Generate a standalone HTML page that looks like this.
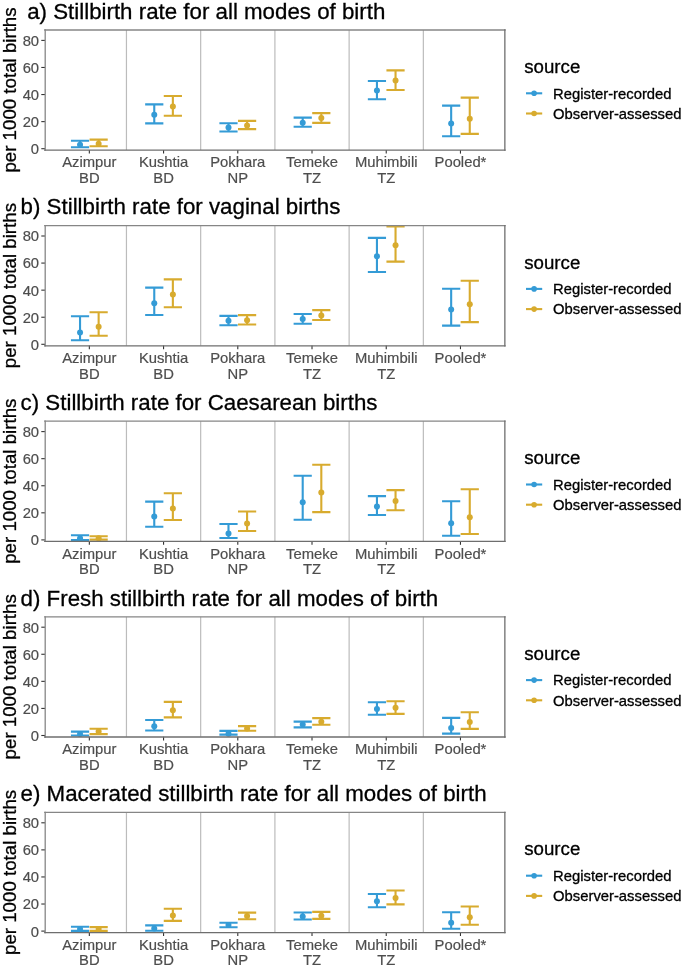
<!DOCTYPE html>
<html><head><meta charset="utf-8"><style>
html,body{margin:0;padding:0;background:#fff;}
body{width:685px;height:970px;overflow:hidden;}
svg{display:block;will-change:transform;}
text{font-family:"Liberation Sans",sans-serif;}
.ttl{font-size:22.3px;fill:#000;stroke:#000;stroke-width:0.3px;}
.ylab{font-size:18.7px;fill:#000;stroke:#000;stroke-width:0.3px;}
.axt{font-size:14.8px;fill:#4d4d4d;stroke:#4d4d4d;stroke-width:0.18px;}
.lgt{font-size:18.7px;fill:#000;stroke:#000;stroke-width:0.3px;}
.lg{font-size:14.8px;fill:#000;stroke:#000;stroke-width:0.3px;}
.sep{stroke:#bcbcbc;stroke-width:1.2;}
.tick{stroke:#333;stroke-width:1.1;}
.bl{fill:none;stroke:#868686;stroke-width:1.3;stroke-linecap:square;}
.bd{fill:none;stroke:#6e6e6e;stroke-width:1.3;stroke-linecap:square;}
.eb{fill:none;stroke-width:2.1;}
</style></head><body>
<svg width="685" height="970" viewBox="0 0 685 970">
<rect width="685" height="970" fill="#fff"/>
<text x="27.2" y="18.8" class="ttl">a) Stillbirth rate for all modes of birth</text>
<text transform="translate(15.9,90) rotate(-90)" text-anchor="middle" class="ylab">per 1000 total births</text>
<line x1="126.45" y1="30" x2="126.45" y2="150" class="sep"/>
<line x1="200.67" y1="30" x2="200.67" y2="150" class="sep"/>
<line x1="274.9" y1="30" x2="274.9" y2="150" class="sep"/>
<line x1="349.13" y1="30" x2="349.13" y2="150" class="sep"/>
<line x1="423.35" y1="30" x2="423.35" y2="150" class="sep"/>
<line x1="41.3" y1="148.7" x2="45" y2="148.7" class="tick"/>
<text x="39.1" y="154.1" text-anchor="end" class="axt">0</text>
<line x1="41.3" y1="121.62" x2="45" y2="121.62" class="tick"/>
<text x="39.1" y="127.02" text-anchor="end" class="axt">20</text>
<line x1="41.3" y1="94.55" x2="45" y2="94.55" class="tick"/>
<text x="39.1" y="99.95" text-anchor="end" class="axt">40</text>
<line x1="41.3" y1="67.47" x2="45" y2="67.47" class="tick"/>
<text x="39.1" y="72.88" text-anchor="end" class="axt">60</text>
<line x1="41.3" y1="40.4" x2="45" y2="40.4" class="tick"/>
<text x="39.1" y="45.8" text-anchor="end" class="axt">80</text>
<line x1="89.34" y1="150" x2="89.34" y2="153.6" class="tick"/>
<text x="89.34" y="167.4" text-anchor="middle" class="axt">Azimpur</text>
<text x="89.34" y="183" text-anchor="middle" class="axt">BD</text>
<line x1="163.56" y1="150" x2="163.56" y2="153.6" class="tick"/>
<text x="163.56" y="167.4" text-anchor="middle" class="axt">Kushtia</text>
<text x="163.56" y="183" text-anchor="middle" class="axt">BD</text>
<line x1="237.79" y1="150" x2="237.79" y2="153.6" class="tick"/>
<text x="237.79" y="167.4" text-anchor="middle" class="axt">Pokhara</text>
<text x="237.79" y="183" text-anchor="middle" class="axt">NP</text>
<line x1="312.01" y1="150" x2="312.01" y2="153.6" class="tick"/>
<text x="312.01" y="167.4" text-anchor="middle" class="axt">Temeke</text>
<text x="312.01" y="183" text-anchor="middle" class="axt">TZ</text>
<line x1="386.24" y1="150" x2="386.24" y2="153.6" class="tick"/>
<text x="386.24" y="167.4" text-anchor="middle" class="axt">Muhimbili</text>
<text x="386.24" y="183" text-anchor="middle" class="axt">TZ</text>
<line x1="460.46" y1="150" x2="460.46" y2="153.6" class="tick"/>
<text x="460.46" y="167.4" text-anchor="middle" class="axt">Pooled*</text>
<path d="M70.94 140.7H89.14M80.04 140.7V147.2M70.94 147.2H89.14" stroke="#349bd6" class="eb"/>
<circle cx="80.04" cy="144.7" r="3.0" fill="#349bd6"/>
<path d="M89.54 139.6H107.74M98.64 139.6V146.2M89.54 146.2H107.74" stroke="#d8ab2e" class="eb"/>
<circle cx="98.64" cy="143.8" r="3.0" fill="#d8ab2e"/>
<path d="M145.16 104.4H163.36M154.26 104.4V123.4M145.16 123.4H163.36" stroke="#349bd6" class="eb"/>
<circle cx="154.26" cy="114.8" r="3.0" fill="#349bd6"/>
<path d="M163.76 96H181.96M172.86 96V115.7M163.76 115.7H181.96" stroke="#d8ab2e" class="eb"/>
<circle cx="172.86" cy="106.6" r="3.0" fill="#d8ab2e"/>
<path d="M219.39 123.2H237.59M228.49 123.2V131.5M219.39 131.5H237.59" stroke="#349bd6" class="eb"/>
<circle cx="228.49" cy="127.5" r="3.0" fill="#349bd6"/>
<path d="M237.99 120.9H256.19M247.09 120.9V129.1M237.99 129.1H256.19" stroke="#d8ab2e" class="eb"/>
<circle cx="247.09" cy="125.4" r="3.0" fill="#d8ab2e"/>
<path d="M293.61 117.6H311.81M302.71 117.6V126.8M293.61 126.8H311.81" stroke="#349bd6" class="eb"/>
<circle cx="302.71" cy="122.7" r="3.0" fill="#349bd6"/>
<path d="M312.21 113.1H330.41M321.31 113.1V122.9M312.21 122.9H330.41" stroke="#d8ab2e" class="eb"/>
<circle cx="321.31" cy="118.1" r="3.0" fill="#d8ab2e"/>
<path d="M367.84 81H386.04M376.94 81V99.2M367.84 99.2H386.04" stroke="#349bd6" class="eb"/>
<circle cx="376.94" cy="90.6" r="3.0" fill="#349bd6"/>
<path d="M386.44 70.4H404.64M395.54 70.4V90M386.44 90H404.64" stroke="#d8ab2e" class="eb"/>
<circle cx="395.54" cy="80.6" r="3.0" fill="#d8ab2e"/>
<path d="M442.06 105.6H460.26M451.16 105.6V136.2M442.06 136.2H460.26" stroke="#349bd6" class="eb"/>
<circle cx="451.16" cy="123.4" r="3.0" fill="#349bd6"/>
<path d="M460.66 97.6H478.86M469.76 97.6V133.9M460.66 133.9H478.86" stroke="#d8ab2e" class="eb"/>
<circle cx="469.76" cy="118.8" r="3.0" fill="#d8ab2e"/>
<line x1="44.8" y1="30" x2="505" y2="30" class="bl"/>
<line x1="45.2" y1="30" x2="45.2" y2="150.2" class="bl"/>
<line x1="504.86" y1="30" x2="504.86" y2="150.2" class="bd"/>
<line x1="44.8" y1="150.2" x2="505" y2="150.2" class="bd"/>
<text x="524.2" y="72.9" class="lgt">source</text>
<line x1="526" y1="93.3" x2="542.2" y2="93.3" stroke="#349bd6" class="eb"/>
<circle cx="534.1" cy="93.3" r="2.8" fill="#349bd6"/>
<text x="553.1" y="98.6" class="lg">Register-recorded</text>
<line x1="526" y1="113.5" x2="542.2" y2="113.5" stroke="#d8ab2e" class="eb"/>
<circle cx="534.1" cy="113.5" r="2.8" fill="#d8ab2e"/>
<text x="553.1" y="118.8" class="lg">Observer-assessed</text>
<text x="20.6" y="214.45" class="ttl">b) Stillbirth rate for vaginal births</text>
<text transform="translate(15.9,285.6) rotate(-90)" text-anchor="middle" class="ylab">per 1000 total births</text>
<line x1="126.45" y1="225.6" x2="126.45" y2="345.6" class="sep"/>
<line x1="200.67" y1="225.6" x2="200.67" y2="345.6" class="sep"/>
<line x1="274.9" y1="225.6" x2="274.9" y2="345.6" class="sep"/>
<line x1="349.13" y1="225.6" x2="349.13" y2="345.6" class="sep"/>
<line x1="423.35" y1="225.6" x2="423.35" y2="345.6" class="sep"/>
<line x1="41.3" y1="344.3" x2="45" y2="344.3" class="tick"/>
<text x="39.1" y="349.7" text-anchor="end" class="axt">0</text>
<line x1="41.3" y1="317.23" x2="45" y2="317.23" class="tick"/>
<text x="39.1" y="322.62" text-anchor="end" class="axt">20</text>
<line x1="41.3" y1="290.15" x2="45" y2="290.15" class="tick"/>
<text x="39.1" y="295.55" text-anchor="end" class="axt">40</text>
<line x1="41.3" y1="263.08" x2="45" y2="263.08" class="tick"/>
<text x="39.1" y="268.48" text-anchor="end" class="axt">60</text>
<line x1="41.3" y1="236" x2="45" y2="236" class="tick"/>
<text x="39.1" y="241.4" text-anchor="end" class="axt">80</text>
<line x1="89.34" y1="345.6" x2="89.34" y2="349.2" class="tick"/>
<text x="89.34" y="363" text-anchor="middle" class="axt">Azimpur</text>
<text x="89.34" y="378.6" text-anchor="middle" class="axt">BD</text>
<line x1="163.56" y1="345.6" x2="163.56" y2="349.2" class="tick"/>
<text x="163.56" y="363" text-anchor="middle" class="axt">Kushtia</text>
<text x="163.56" y="378.6" text-anchor="middle" class="axt">BD</text>
<line x1="237.79" y1="345.6" x2="237.79" y2="349.2" class="tick"/>
<text x="237.79" y="363" text-anchor="middle" class="axt">Pokhara</text>
<text x="237.79" y="378.6" text-anchor="middle" class="axt">NP</text>
<line x1="312.01" y1="345.6" x2="312.01" y2="349.2" class="tick"/>
<text x="312.01" y="363" text-anchor="middle" class="axt">Temeke</text>
<text x="312.01" y="378.6" text-anchor="middle" class="axt">TZ</text>
<line x1="386.24" y1="345.6" x2="386.24" y2="349.2" class="tick"/>
<text x="386.24" y="363" text-anchor="middle" class="axt">Muhimbili</text>
<text x="386.24" y="378.6" text-anchor="middle" class="axt">TZ</text>
<line x1="460.46" y1="345.6" x2="460.46" y2="349.2" class="tick"/>
<text x="460.46" y="363" text-anchor="middle" class="axt">Pooled*</text>
<path d="M70.94 316.3H89.14M80.04 316.3V340.3M70.94 340.3H89.14" stroke="#349bd6" class="eb"/>
<circle cx="80.04" cy="332.4" r="3.0" fill="#349bd6"/>
<path d="M89.54 312.2H107.74M98.64 312.2V335.8M89.54 335.8H107.74" stroke="#d8ab2e" class="eb"/>
<circle cx="98.64" cy="326.8" r="3.0" fill="#d8ab2e"/>
<path d="M145.16 287.6H163.36M154.26 287.6V315M145.16 315H163.36" stroke="#349bd6" class="eb"/>
<circle cx="154.26" cy="303.2" r="3.0" fill="#349bd6"/>
<path d="M163.76 279.4H181.96M172.86 279.4V307.2M163.76 307.2H181.96" stroke="#d8ab2e" class="eb"/>
<circle cx="172.86" cy="294.6" r="3.0" fill="#d8ab2e"/>
<path d="M219.39 315.9H237.59M228.49 315.9V325.2M219.39 325.2H237.59" stroke="#349bd6" class="eb"/>
<circle cx="228.49" cy="320.8" r="3.0" fill="#349bd6"/>
<path d="M237.99 315.1H256.19M247.09 315.1V324.5M237.99 324.5H256.19" stroke="#d8ab2e" class="eb"/>
<circle cx="247.09" cy="320.2" r="3.0" fill="#d8ab2e"/>
<path d="M293.61 314H311.81M302.71 314V323.7M293.61 323.7H311.81" stroke="#349bd6" class="eb"/>
<circle cx="302.71" cy="319.1" r="3.0" fill="#349bd6"/>
<path d="M312.21 310.1H330.41M321.31 310.1V320M312.21 320H330.41" stroke="#d8ab2e" class="eb"/>
<circle cx="321.31" cy="315.5" r="3.0" fill="#d8ab2e"/>
<path d="M367.84 237.9H386.04M376.94 237.9V272M367.84 272H386.04" stroke="#349bd6" class="eb"/>
<circle cx="376.94" cy="256.3" r="3.0" fill="#349bd6"/>
<path d="M386.44 226.4H404.64M395.54 226.4V261.6M386.44 261.6H404.64" stroke="#d8ab2e" class="eb"/>
<circle cx="395.54" cy="245.2" r="3.0" fill="#d8ab2e"/>
<path d="M442.06 288.8H460.26M451.16 288.8V325.6M442.06 325.6H460.26" stroke="#349bd6" class="eb"/>
<circle cx="451.16" cy="309.5" r="3.0" fill="#349bd6"/>
<path d="M460.66 280.7H478.86M469.76 280.7V322.1M460.66 322.1H478.86" stroke="#d8ab2e" class="eb"/>
<circle cx="469.76" cy="304.2" r="3.0" fill="#d8ab2e"/>
<line x1="44.8" y1="225.6" x2="505" y2="225.6" class="bl"/>
<line x1="45.2" y1="225.6" x2="45.2" y2="345.8" class="bl"/>
<line x1="504.86" y1="225.6" x2="504.86" y2="345.8" class="bd"/>
<line x1="44.8" y1="345.8" x2="505" y2="345.8" class="bd"/>
<text x="524.2" y="268.5" class="lgt">source</text>
<line x1="526" y1="288.9" x2="542.2" y2="288.9" stroke="#349bd6" class="eb"/>
<circle cx="534.1" cy="288.9" r="2.8" fill="#349bd6"/>
<text x="553.1" y="294.2" class="lg">Register-recorded</text>
<line x1="526" y1="309.1" x2="542.2" y2="309.1" stroke="#d8ab2e" class="eb"/>
<circle cx="534.1" cy="309.1" r="2.8" fill="#d8ab2e"/>
<text x="553.1" y="314.4" class="lg">Observer-assessed</text>
<text x="20.6" y="410.1" class="ttl">c) Stillbirth rate for Caesarean births</text>
<text transform="translate(15.9,481.2) rotate(-90)" text-anchor="middle" class="ylab">per 1000 total births</text>
<line x1="126.45" y1="421.2" x2="126.45" y2="541.2" class="sep"/>
<line x1="200.67" y1="421.2" x2="200.67" y2="541.2" class="sep"/>
<line x1="274.9" y1="421.2" x2="274.9" y2="541.2" class="sep"/>
<line x1="349.13" y1="421.2" x2="349.13" y2="541.2" class="sep"/>
<line x1="423.35" y1="421.2" x2="423.35" y2="541.2" class="sep"/>
<line x1="41.3" y1="539.9" x2="45" y2="539.9" class="tick"/>
<text x="39.1" y="545.3" text-anchor="end" class="axt">0</text>
<line x1="41.3" y1="512.82" x2="45" y2="512.82" class="tick"/>
<text x="39.1" y="518.22" text-anchor="end" class="axt">20</text>
<line x1="41.3" y1="485.75" x2="45" y2="485.75" class="tick"/>
<text x="39.1" y="491.15" text-anchor="end" class="axt">40</text>
<line x1="41.3" y1="458.67" x2="45" y2="458.67" class="tick"/>
<text x="39.1" y="464.07" text-anchor="end" class="axt">60</text>
<line x1="41.3" y1="431.6" x2="45" y2="431.6" class="tick"/>
<text x="39.1" y="437" text-anchor="end" class="axt">80</text>
<line x1="89.34" y1="541.2" x2="89.34" y2="544.8" class="tick"/>
<text x="89.34" y="558.6" text-anchor="middle" class="axt">Azimpur</text>
<text x="89.34" y="574.2" text-anchor="middle" class="axt">BD</text>
<line x1="163.56" y1="541.2" x2="163.56" y2="544.8" class="tick"/>
<text x="163.56" y="558.6" text-anchor="middle" class="axt">Kushtia</text>
<text x="163.56" y="574.2" text-anchor="middle" class="axt">BD</text>
<line x1="237.79" y1="541.2" x2="237.79" y2="544.8" class="tick"/>
<text x="237.79" y="558.6" text-anchor="middle" class="axt">Pokhara</text>
<text x="237.79" y="574.2" text-anchor="middle" class="axt">NP</text>
<line x1="312.01" y1="541.2" x2="312.01" y2="544.8" class="tick"/>
<text x="312.01" y="558.6" text-anchor="middle" class="axt">Temeke</text>
<text x="312.01" y="574.2" text-anchor="middle" class="axt">TZ</text>
<line x1="386.24" y1="541.2" x2="386.24" y2="544.8" class="tick"/>
<text x="386.24" y="558.6" text-anchor="middle" class="axt">Muhimbili</text>
<text x="386.24" y="574.2" text-anchor="middle" class="axt">TZ</text>
<line x1="460.46" y1="541.2" x2="460.46" y2="544.8" class="tick"/>
<text x="460.46" y="558.6" text-anchor="middle" class="axt">Pooled*</text>
<path d="M70.94 535.2H89.14M80.04 535.2V540M70.94 540H89.14" stroke="#349bd6" class="eb"/>
<circle cx="80.04" cy="538.3" r="3.0" fill="#349bd6"/>
<path d="M89.54 536.3H107.74M98.64 536.3V539.6M89.54 539.6H107.74" stroke="#d8ab2e" class="eb"/>
<circle cx="98.64" cy="538.3" r="3.0" fill="#d8ab2e"/>
<path d="M145.16 501.6H163.36M154.26 501.6V526.7M145.16 526.7H163.36" stroke="#349bd6" class="eb"/>
<circle cx="154.26" cy="516.6" r="3.0" fill="#349bd6"/>
<path d="M163.76 493.2H181.96M172.86 493.2V520M163.76 520H181.96" stroke="#d8ab2e" class="eb"/>
<circle cx="172.86" cy="508.6" r="3.0" fill="#d8ab2e"/>
<path d="M219.39 524H237.59M228.49 524V538M219.39 538H237.59" stroke="#349bd6" class="eb"/>
<circle cx="228.49" cy="533.6" r="3.0" fill="#349bd6"/>
<path d="M237.99 511.5H256.19M247.09 511.5V531M237.99 531H256.19" stroke="#d8ab2e" class="eb"/>
<circle cx="247.09" cy="523.4" r="3.0" fill="#d8ab2e"/>
<path d="M293.61 475.7H311.81M302.71 475.7V519.8M293.61 519.8H311.81" stroke="#349bd6" class="eb"/>
<circle cx="302.71" cy="502.3" r="3.0" fill="#349bd6"/>
<path d="M312.21 464.7H330.41M321.31 464.7V512.1M312.21 512.1H330.41" stroke="#d8ab2e" class="eb"/>
<circle cx="321.31" cy="492.4" r="3.0" fill="#d8ab2e"/>
<path d="M367.84 496.1H386.04M376.94 496.1V515M367.84 515H386.04" stroke="#349bd6" class="eb"/>
<circle cx="376.94" cy="506.6" r="3.0" fill="#349bd6"/>
<path d="M386.44 490.1H404.64M395.54 490.1V510.2M386.44 510.2H404.64" stroke="#d8ab2e" class="eb"/>
<circle cx="395.54" cy="500.9" r="3.0" fill="#d8ab2e"/>
<path d="M442.06 501.3H460.26M451.16 501.3V535.8M442.06 535.8H460.26" stroke="#349bd6" class="eb"/>
<circle cx="451.16" cy="523.2" r="3.0" fill="#349bd6"/>
<path d="M460.66 489.2H478.86M469.76 489.2V534M460.66 534H478.86" stroke="#d8ab2e" class="eb"/>
<circle cx="469.76" cy="517.3" r="3.0" fill="#d8ab2e"/>
<line x1="44.8" y1="421.2" x2="505" y2="421.2" class="bl"/>
<line x1="45.2" y1="421.2" x2="45.2" y2="541.4" class="bl"/>
<line x1="504.86" y1="421.2" x2="504.86" y2="541.4" class="bd"/>
<line x1="44.8" y1="541.4" x2="505" y2="541.4" class="bd"/>
<text x="524.2" y="464.1" class="lgt">source</text>
<line x1="526" y1="484.5" x2="542.2" y2="484.5" stroke="#349bd6" class="eb"/>
<circle cx="534.1" cy="484.5" r="2.8" fill="#349bd6"/>
<text x="553.1" y="489.8" class="lg">Register-recorded</text>
<line x1="526" y1="504.7" x2="542.2" y2="504.7" stroke="#d8ab2e" class="eb"/>
<circle cx="534.1" cy="504.7" r="2.8" fill="#d8ab2e"/>
<text x="553.1" y="510" class="lg">Observer-assessed</text>
<text x="20.6" y="605.75" class="ttl">d) Fresh stillbirth rate for all modes of birth</text>
<text transform="translate(15.9,676.8) rotate(-90)" text-anchor="middle" class="ylab">per 1000 total births</text>
<line x1="126.45" y1="616.8" x2="126.45" y2="736.8" class="sep"/>
<line x1="200.67" y1="616.8" x2="200.67" y2="736.8" class="sep"/>
<line x1="274.9" y1="616.8" x2="274.9" y2="736.8" class="sep"/>
<line x1="349.13" y1="616.8" x2="349.13" y2="736.8" class="sep"/>
<line x1="423.35" y1="616.8" x2="423.35" y2="736.8" class="sep"/>
<line x1="41.3" y1="735.5" x2="45" y2="735.5" class="tick"/>
<text x="39.1" y="740.9" text-anchor="end" class="axt">0</text>
<line x1="41.3" y1="708.42" x2="45" y2="708.42" class="tick"/>
<text x="39.1" y="713.82" text-anchor="end" class="axt">20</text>
<line x1="41.3" y1="681.35" x2="45" y2="681.35" class="tick"/>
<text x="39.1" y="686.75" text-anchor="end" class="axt">40</text>
<line x1="41.3" y1="654.27" x2="45" y2="654.27" class="tick"/>
<text x="39.1" y="659.67" text-anchor="end" class="axt">60</text>
<line x1="41.3" y1="627.2" x2="45" y2="627.2" class="tick"/>
<text x="39.1" y="632.6" text-anchor="end" class="axt">80</text>
<line x1="89.34" y1="736.8" x2="89.34" y2="740.4" class="tick"/>
<text x="89.34" y="754.2" text-anchor="middle" class="axt">Azimpur</text>
<text x="89.34" y="769.8" text-anchor="middle" class="axt">BD</text>
<line x1="163.56" y1="736.8" x2="163.56" y2="740.4" class="tick"/>
<text x="163.56" y="754.2" text-anchor="middle" class="axt">Kushtia</text>
<text x="163.56" y="769.8" text-anchor="middle" class="axt">BD</text>
<line x1="237.79" y1="736.8" x2="237.79" y2="740.4" class="tick"/>
<text x="237.79" y="754.2" text-anchor="middle" class="axt">Pokhara</text>
<text x="237.79" y="769.8" text-anchor="middle" class="axt">NP</text>
<line x1="312.01" y1="736.8" x2="312.01" y2="740.4" class="tick"/>
<text x="312.01" y="754.2" text-anchor="middle" class="axt">Temeke</text>
<text x="312.01" y="769.8" text-anchor="middle" class="axt">TZ</text>
<line x1="386.24" y1="736.8" x2="386.24" y2="740.4" class="tick"/>
<text x="386.24" y="754.2" text-anchor="middle" class="axt">Muhimbili</text>
<text x="386.24" y="769.8" text-anchor="middle" class="axt">TZ</text>
<line x1="460.46" y1="736.8" x2="460.46" y2="740.4" class="tick"/>
<text x="460.46" y="754.2" text-anchor="middle" class="axt">Pooled*</text>
<path d="M70.94 731.6H89.14M80.04 731.6V735.5M70.94 735.5H89.14" stroke="#349bd6" class="eb"/>
<circle cx="80.04" cy="734" r="3.0" fill="#349bd6"/>
<path d="M89.54 728.8H107.74M98.64 728.8V734.1M89.54 734.1H107.74" stroke="#d8ab2e" class="eb"/>
<circle cx="98.64" cy="731.6" r="3.0" fill="#d8ab2e"/>
<path d="M145.16 720H163.36M154.26 720V730.5M145.16 730.5H163.36" stroke="#349bd6" class="eb"/>
<circle cx="154.26" cy="726.3" r="3.0" fill="#349bd6"/>
<path d="M163.76 701.9H181.96M172.86 701.9V717.4M163.76 717.4H181.96" stroke="#d8ab2e" class="eb"/>
<circle cx="172.86" cy="710.2" r="3.0" fill="#d8ab2e"/>
<path d="M219.39 730.9H237.59M228.49 730.9V734.6M219.39 734.6H237.59" stroke="#349bd6" class="eb"/>
<circle cx="228.49" cy="733.7" r="3.0" fill="#349bd6"/>
<path d="M237.99 726.1H256.19M247.09 726.1V730.8M237.99 730.8H256.19" stroke="#d8ab2e" class="eb"/>
<circle cx="247.09" cy="728.5" r="3.0" fill="#d8ab2e"/>
<path d="M293.61 721.6H311.81M302.71 721.6V727.4M293.61 727.4H311.81" stroke="#349bd6" class="eb"/>
<circle cx="302.71" cy="724.6" r="3.0" fill="#349bd6"/>
<path d="M312.21 718.1H330.41M321.31 718.1V724.7M312.21 724.7H330.41" stroke="#d8ab2e" class="eb"/>
<circle cx="321.31" cy="721.7" r="3.0" fill="#d8ab2e"/>
<path d="M367.84 702.2H386.04M376.94 702.2V714.8M367.84 714.8H386.04" stroke="#349bd6" class="eb"/>
<circle cx="376.94" cy="709.1" r="3.0" fill="#349bd6"/>
<path d="M386.44 701.2H404.64M395.54 701.2V713.9M386.44 713.9H404.64" stroke="#d8ab2e" class="eb"/>
<circle cx="395.54" cy="707.8" r="3.0" fill="#d8ab2e"/>
<path d="M442.06 717.9H460.26M451.16 717.9V733.6M442.06 733.6H460.26" stroke="#349bd6" class="eb"/>
<circle cx="451.16" cy="727.9" r="3.0" fill="#349bd6"/>
<path d="M460.66 712.2H478.86M469.76 712.2V728.9M460.66 728.9H478.86" stroke="#d8ab2e" class="eb"/>
<circle cx="469.76" cy="722" r="3.0" fill="#d8ab2e"/>
<line x1="44.8" y1="616.8" x2="505" y2="616.8" class="bl"/>
<line x1="45.2" y1="616.8" x2="45.2" y2="737" class="bl"/>
<line x1="504.86" y1="616.8" x2="504.86" y2="737" class="bd"/>
<line x1="44.8" y1="737" x2="505" y2="737" class="bd"/>
<text x="524.2" y="659.7" class="lgt">source</text>
<line x1="526" y1="680.1" x2="542.2" y2="680.1" stroke="#349bd6" class="eb"/>
<circle cx="534.1" cy="680.1" r="2.8" fill="#349bd6"/>
<text x="553.1" y="685.4" class="lg">Register-recorded</text>
<line x1="526" y1="700.3" x2="542.2" y2="700.3" stroke="#d8ab2e" class="eb"/>
<circle cx="534.1" cy="700.3" r="2.8" fill="#d8ab2e"/>
<text x="553.1" y="705.6" class="lg">Observer-assessed</text>
<text x="20.6" y="801.4" class="ttl">e) Macerated stillbirth rate for all modes of birth</text>
<text transform="translate(15.9,872.4) rotate(-90)" text-anchor="middle" class="ylab">per 1000 total births</text>
<line x1="126.45" y1="812.4" x2="126.45" y2="932.4" class="sep"/>
<line x1="200.67" y1="812.4" x2="200.67" y2="932.4" class="sep"/>
<line x1="274.9" y1="812.4" x2="274.9" y2="932.4" class="sep"/>
<line x1="349.13" y1="812.4" x2="349.13" y2="932.4" class="sep"/>
<line x1="423.35" y1="812.4" x2="423.35" y2="932.4" class="sep"/>
<line x1="41.3" y1="931.1" x2="45" y2="931.1" class="tick"/>
<text x="39.1" y="936.5" text-anchor="end" class="axt">0</text>
<line x1="41.3" y1="904.02" x2="45" y2="904.02" class="tick"/>
<text x="39.1" y="909.42" text-anchor="end" class="axt">20</text>
<line x1="41.3" y1="876.95" x2="45" y2="876.95" class="tick"/>
<text x="39.1" y="882.35" text-anchor="end" class="axt">40</text>
<line x1="41.3" y1="849.88" x2="45" y2="849.88" class="tick"/>
<text x="39.1" y="855.27" text-anchor="end" class="axt">60</text>
<line x1="41.3" y1="822.8" x2="45" y2="822.8" class="tick"/>
<text x="39.1" y="828.2" text-anchor="end" class="axt">80</text>
<line x1="89.34" y1="932.4" x2="89.34" y2="936" class="tick"/>
<text x="89.34" y="949.8" text-anchor="middle" class="axt">Azimpur</text>
<text x="89.34" y="965.4" text-anchor="middle" class="axt">BD</text>
<line x1="163.56" y1="932.4" x2="163.56" y2="936" class="tick"/>
<text x="163.56" y="949.8" text-anchor="middle" class="axt">Kushtia</text>
<text x="163.56" y="965.4" text-anchor="middle" class="axt">BD</text>
<line x1="237.79" y1="932.4" x2="237.79" y2="936" class="tick"/>
<text x="237.79" y="949.8" text-anchor="middle" class="axt">Pokhara</text>
<text x="237.79" y="965.4" text-anchor="middle" class="axt">NP</text>
<line x1="312.01" y1="932.4" x2="312.01" y2="936" class="tick"/>
<text x="312.01" y="949.8" text-anchor="middle" class="axt">Temeke</text>
<text x="312.01" y="965.4" text-anchor="middle" class="axt">TZ</text>
<line x1="386.24" y1="932.4" x2="386.24" y2="936" class="tick"/>
<text x="386.24" y="949.8" text-anchor="middle" class="axt">Muhimbili</text>
<text x="386.24" y="965.4" text-anchor="middle" class="axt">TZ</text>
<line x1="460.46" y1="932.4" x2="460.46" y2="936" class="tick"/>
<text x="460.46" y="949.8" text-anchor="middle" class="axt">Pooled*</text>
<path d="M70.94 926.7H89.14M80.04 926.7V930.9M70.94 930.9H89.14" stroke="#349bd6" class="eb"/>
<circle cx="80.04" cy="929" r="3.0" fill="#349bd6"/>
<path d="M89.54 927.1H107.74M98.64 927.1V930.9M89.54 930.9H107.74" stroke="#d8ab2e" class="eb"/>
<circle cx="98.64" cy="929" r="3.0" fill="#d8ab2e"/>
<path d="M145.16 925.4H163.36M154.26 925.4V930.8M145.16 930.8H163.36" stroke="#349bd6" class="eb"/>
<circle cx="154.26" cy="928.6" r="3.0" fill="#349bd6"/>
<path d="M163.76 908.7H181.96M172.86 908.7V920.9M163.76 920.9H181.96" stroke="#d8ab2e" class="eb"/>
<circle cx="172.86" cy="915.4" r="3.0" fill="#d8ab2e"/>
<path d="M219.39 922.8H237.59M228.49 922.8V927.2M219.39 927.2H237.59" stroke="#349bd6" class="eb"/>
<circle cx="228.49" cy="925.1" r="3.0" fill="#349bd6"/>
<path d="M237.99 912.6H256.19M247.09 912.6V919.2M237.99 919.2H256.19" stroke="#d8ab2e" class="eb"/>
<circle cx="247.09" cy="916.1" r="3.0" fill="#d8ab2e"/>
<path d="M293.61 912.5H311.81M302.71 912.5V919.5M293.61 919.5H311.81" stroke="#349bd6" class="eb"/>
<circle cx="302.71" cy="916.6" r="3.0" fill="#349bd6"/>
<path d="M312.21 911.9H330.41M321.31 911.9V918.9M312.21 918.9H330.41" stroke="#d8ab2e" class="eb"/>
<circle cx="321.31" cy="915.8" r="3.0" fill="#d8ab2e"/>
<path d="M367.84 894H386.04M376.94 894V907.3M367.84 907.3H386.04" stroke="#349bd6" class="eb"/>
<circle cx="376.94" cy="901.2" r="3.0" fill="#349bd6"/>
<path d="M386.44 890.5H404.64M395.54 890.5V904.4M386.44 904.4H404.64" stroke="#d8ab2e" class="eb"/>
<circle cx="395.54" cy="898.1" r="3.0" fill="#d8ab2e"/>
<path d="M442.06 912.2H460.26M451.16 912.2V928.8M442.06 928.8H460.26" stroke="#349bd6" class="eb"/>
<circle cx="451.16" cy="922.7" r="3.0" fill="#349bd6"/>
<path d="M460.66 906.5H478.86M469.76 906.5V924.7M460.66 924.7H478.86" stroke="#d8ab2e" class="eb"/>
<circle cx="469.76" cy="917.2" r="3.0" fill="#d8ab2e"/>
<line x1="44.8" y1="812.4" x2="505" y2="812.4" class="bl"/>
<line x1="45.2" y1="812.4" x2="45.2" y2="932.6" class="bl"/>
<line x1="504.86" y1="812.4" x2="504.86" y2="932.6" class="bd"/>
<line x1="44.8" y1="932.6" x2="505" y2="932.6" class="bd"/>
<text x="524.2" y="855.3" class="lgt">source</text>
<line x1="526" y1="875.7" x2="542.2" y2="875.7" stroke="#349bd6" class="eb"/>
<circle cx="534.1" cy="875.7" r="2.8" fill="#349bd6"/>
<text x="553.1" y="881" class="lg">Register-recorded</text>
<line x1="526" y1="895.9" x2="542.2" y2="895.9" stroke="#d8ab2e" class="eb"/>
<circle cx="534.1" cy="895.9" r="2.8" fill="#d8ab2e"/>
<text x="553.1" y="901.2" class="lg">Observer-assessed</text>
</svg>
</body></html>
